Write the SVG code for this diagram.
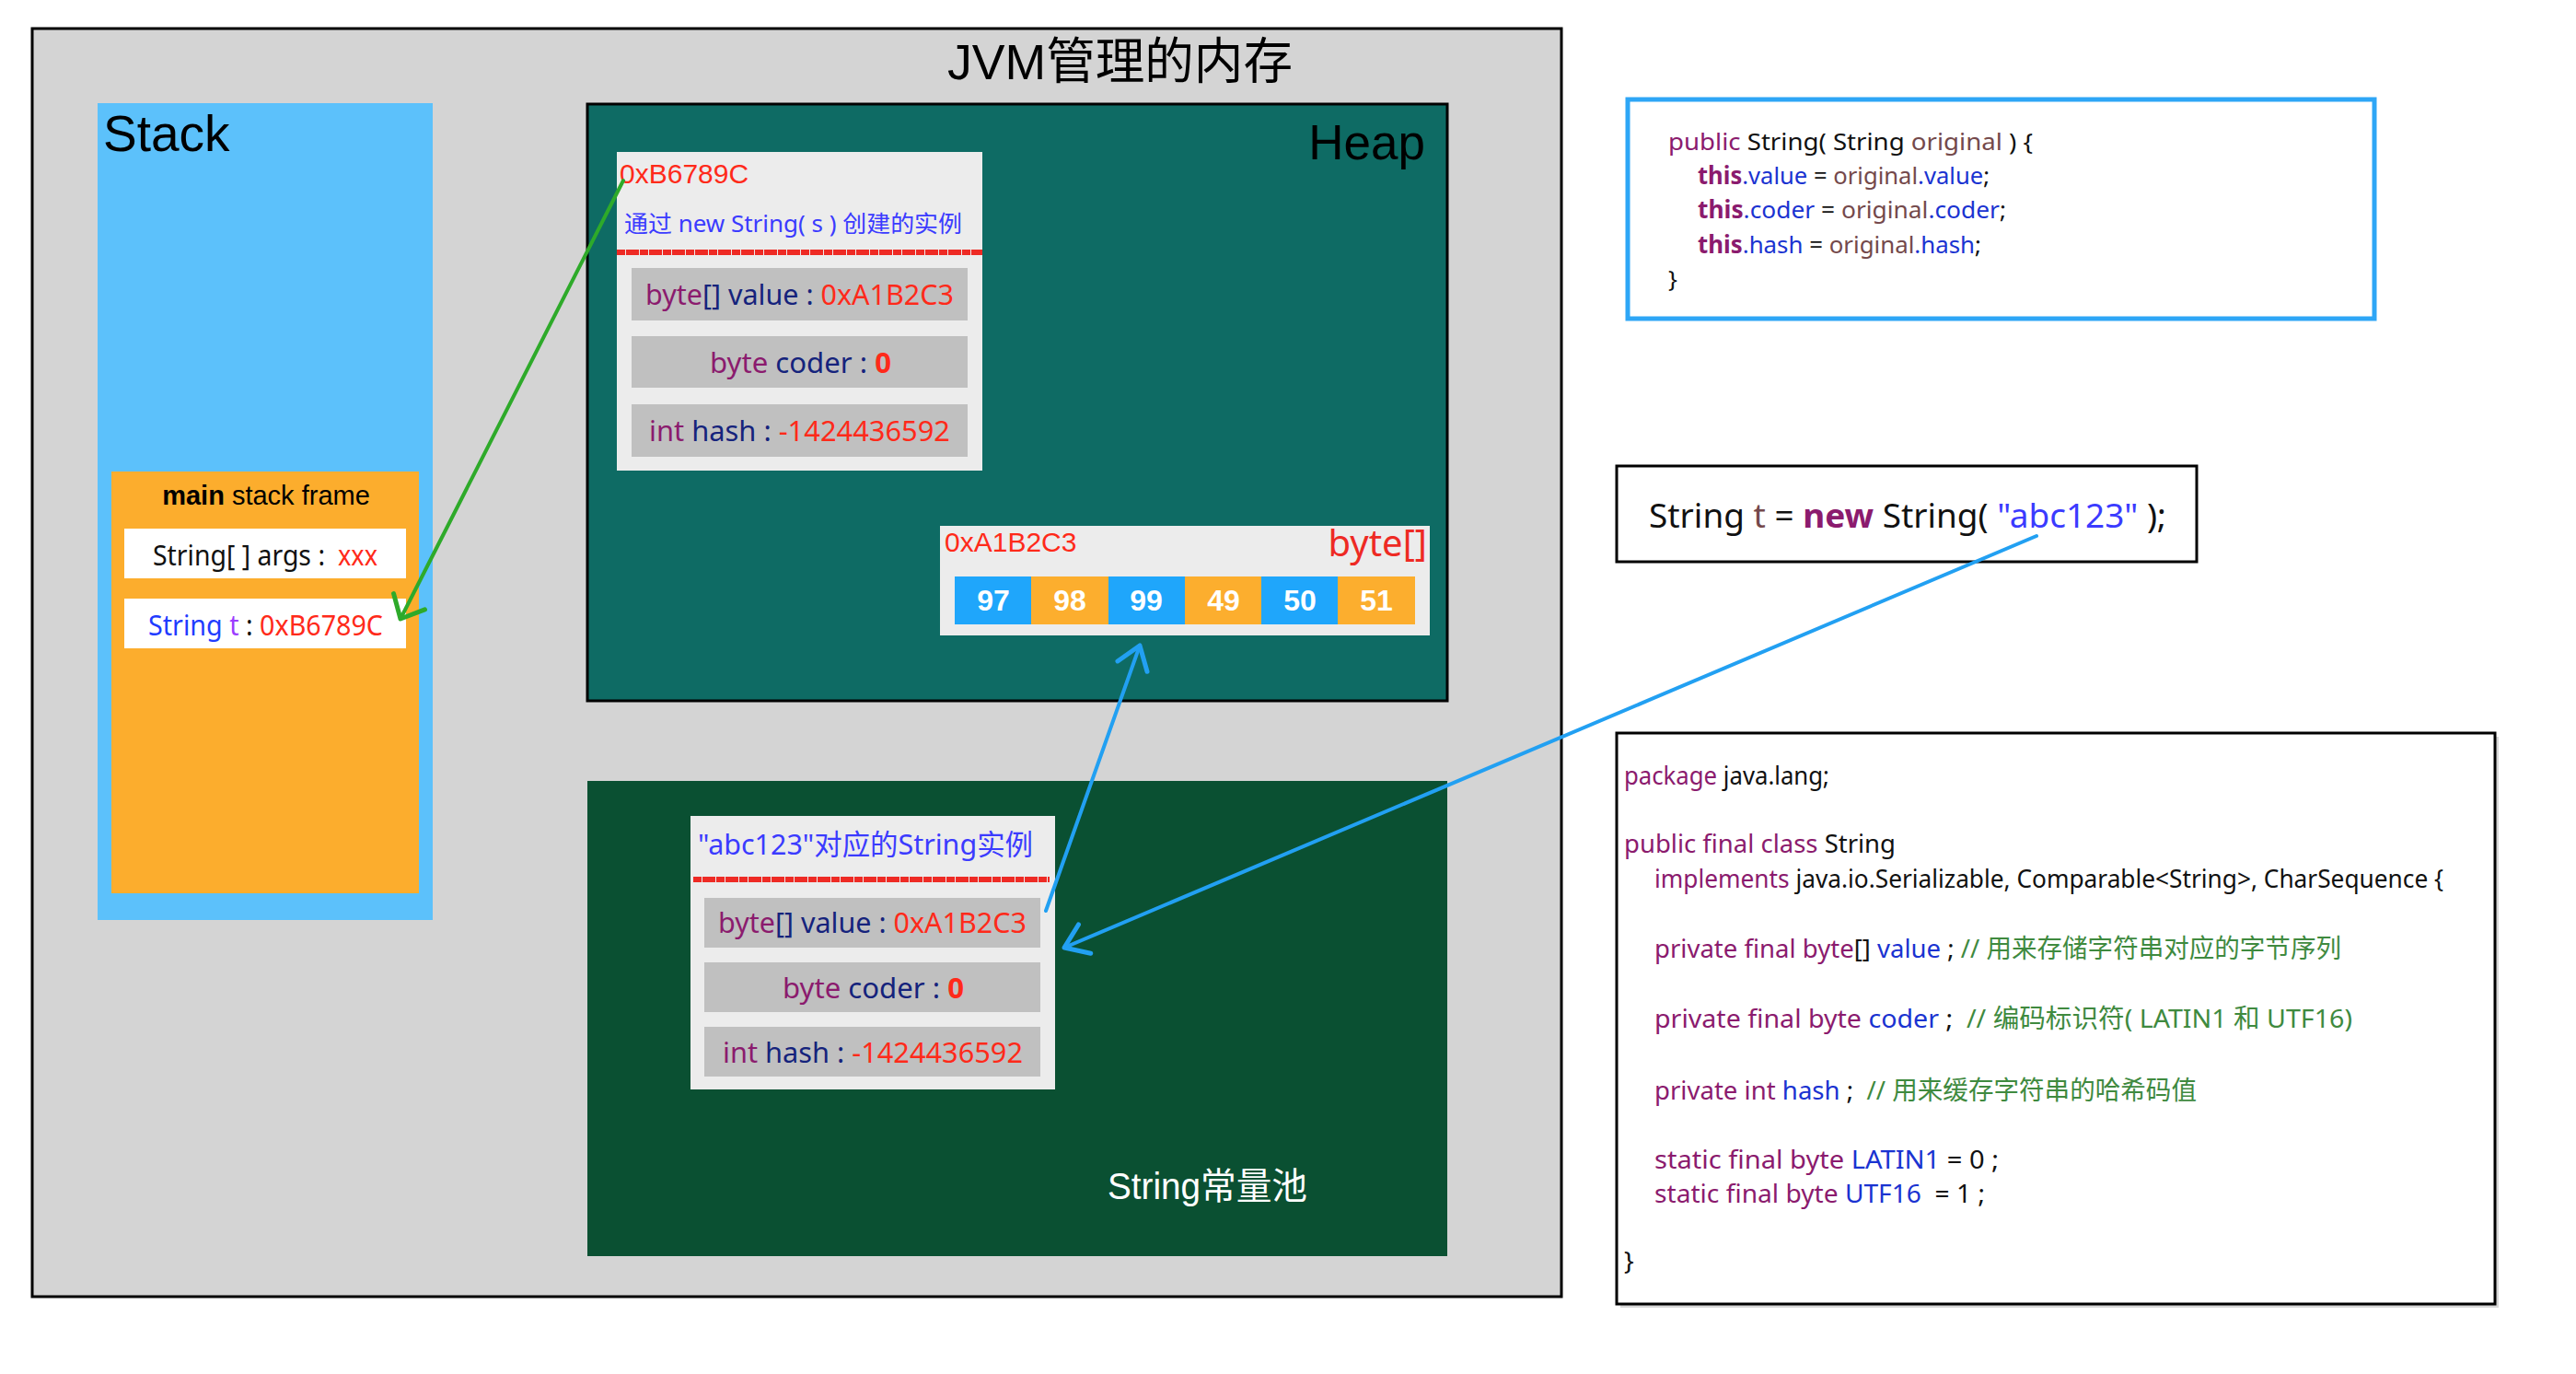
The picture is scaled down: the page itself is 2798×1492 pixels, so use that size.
<svg xmlns="http://www.w3.org/2000/svg" width="2798" height="1492" viewBox="0 0 2798 1492">
<style>
.sans{font-family:"Liberation Sans","Noto Sans CJK SC",Arial,sans-serif}
.code{font-family:"Noto Sans","Noto Sans CJK SC",sans-serif;white-space:pre}
.kw{fill:#8b1b6e}
.nv{fill:#15237c}
.rd{fill:#ff2a1a}
.bl{fill:#1a33d1}
.gr{fill:#3f8a3f}
.bk{fill:#111111}
.br{fill:#74494b}
.row{fill:#c0c0c0}
.inst{fill:#ececec}
.num{font-family:"Liberation Sans",Arial,sans-serif;font-weight:bold;font-size:32px;fill:#ffffff;text-anchor:middle}
.redline{stroke:#ee2a24;stroke-width:6;stroke-dasharray:9 1 14 1;fill:none}
.conn{fill:none;stroke-width:4;stroke-linecap:round;stroke-linejoin:round}
</style>
<defs>
<marker id="headG" markerUnits="userSpaceOnUse" markerWidth="60" markerHeight="60" refX="0" refY="0" viewBox="-30 -30 60 60" orient="auto" overflow="visible">
<path d="M -21 -19 L 0 0 L -21 19" fill="none" stroke="#2eaa2a" stroke-width="5" stroke-linecap="round" stroke-linejoin="round"/>
</marker>
<marker id="headB" markerUnits="userSpaceOnUse" markerWidth="60" markerHeight="60" refX="0" refY="0" viewBox="-30 -30 60 60" orient="auto" overflow="visible">
<path d="M -24 -17 L 0 0 L -24 17" fill="none" stroke="#22a0f2" stroke-width="5" stroke-linecap="round" stroke-linejoin="round"/>
</marker>
</defs>
<rect x="0" y="0" width="2798" height="1492" fill="#ffffff"/>

<g id="jvm">
<rect x="35" y="31" width="1661" height="1377" fill="#d4d4d4" stroke="#000" stroke-width="3"/>
<text class="sans" x="1029" y="86" font-size="54" textLength="375" lengthAdjust="spacingAndGlyphs" fill="#000">JVM管理的内存</text>
</g>

<g id="stack">
<rect x="106" y="112" width="364" height="887" fill="#5cc1fb"/>
<text class="sans" x="112" y="164" font-size="55" fill="#000">Stack</text>
</g>

<g id="main-frame">
<rect x="121" y="512" width="334" height="458" fill="#fcad2d"/>
<text class="sans" x="289" y="548" font-size="29" text-anchor="middle" fill="#000"><tspan font-weight="bold">main</tspan> stack frame</text>
<rect x="135" y="574" width="306" height="54" fill="#ffffff"/>
<text class="code bk" x="166" y="614" font-size="30" textLength="187" lengthAdjust="spacingAndGlyphs">String[ ] args :</text>
<text class="code rd" x="367" y="614" font-size="30" textLength="43" lengthAdjust="spacingAndGlyphs">xxx</text>
<rect x="135" y="650" width="306" height="54" fill="#ffffff"/>
<text class="code" x="161" y="690" font-size="30" textLength="255" lengthAdjust="spacingAndGlyphs"><tspan fill="#1f3cff">String</tspan><tspan fill="#9b3cff"> t</tspan><tspan class="bk"> : </tspan><tspan class="rd">0xB6789C</tspan></text>
</g>

<g id="heap">
<rect x="638" y="113" width="934" height="648" fill="#0e6b64" stroke="#000" stroke-width="3"/>
<text class="sans" x="1548" y="173" font-size="53" text-anchor="end" fill="#000">Heap</text>
</g>

<g id="heap-string">
<rect class="inst" x="670" y="165" width="397" height="346"/>
<text class="sans" x="673" y="199" font-size="30" fill="#ff2a1a">0xB6789C</text>
<text class="code" x="678" y="252" font-size="25" fill="#3b3bff" textLength="367" lengthAdjust="spacingAndGlyphs">通过 new String( s ) 创建的实例</text>
<path class="redline" d="M 670 274 L 1067 274"/>
<rect class="row" x="686" y="291" width="365" height="57"/>
<text class="code" x="701" y="331" font-size="30" textLength="335" lengthAdjust="spacingAndGlyphs"><tspan class="kw">byte</tspan><tspan class="nv">[] value : </tspan><tspan class="rd">0xA1B2C3</tspan></text>
<rect class="row" x="686" y="365" width="365" height="56"/>
<text class="code" x="771" y="405" font-size="30" textLength="197" lengthAdjust="spacingAndGlyphs"><tspan class="kw">byte</tspan><tspan class="nv"> coder : </tspan><tspan class="rd" font-weight="bold">0</tspan></text>
<rect class="row" x="686" y="439" width="365" height="57"/>
<text class="code" x="705" y="479" font-size="30" textLength="327" lengthAdjust="spacingAndGlyphs"><tspan class="kw">int</tspan><tspan class="nv"> hash : </tspan><tspan class="rd">-1424436592</tspan></text>
</g>

<g id="byte-array">
<rect class="inst" x="1021" y="571" width="532" height="119"/>
<text class="sans" x="1026" y="599" font-size="30" fill="#ff2a1a">0xA1B2C3</text>
<text class="code" x="1550" y="604" font-size="40" text-anchor="end" fill="#ee2a24">byte[]</text>
<rect x="1037" y="626" width="84" height="52" fill="#1fa6fb"/>
<rect x="1120" y="626" width="84" height="52" fill="#fcae2e"/>
<rect x="1204" y="626" width="84" height="52" fill="#1fa6fb"/>
<rect x="1287" y="626" width="84" height="52" fill="#fcae2e"/>
<rect x="1370" y="626" width="84" height="52" fill="#1fa6fb"/>
<rect x="1453" y="626" width="84" height="52" fill="#fcae2e"/>
<text class="num" x="1079" y="663">97</text>
<text class="num" x="1162" y="663">98</text>
<text class="num" x="1245" y="663">99</text>
<text class="num" x="1329" y="663">49</text>
<text class="num" x="1412" y="663">50</text>
<text class="num" x="1495" y="663">51</text>
</g>

<g id="string-pool">
<rect x="638" y="848" width="934" height="516" fill="#0a5032"/>
<text class="sans" x="1203" y="1302" font-size="40" fill="#ffffff" textLength="217" lengthAdjust="spacingAndGlyphs">String常量池</text>
</g>

<g id="pool-string">
<rect class="inst" x="750" y="886" width="396" height="297"/>
<text class="code" x="758" y="928" font-size="31" fill="#3b3bff" textLength="364" lengthAdjust="spacingAndGlyphs">"abc123"对应的String实例</text>
<path class="redline" d="M 753 955 L 1140 955"/>
<rect class="row" x="765" y="975" width="365" height="54"/>
<text class="code" x="780" y="1013" font-size="30" textLength="335" lengthAdjust="spacingAndGlyphs"><tspan class="kw">byte</tspan><tspan class="nv">[] value : </tspan><tspan class="rd">0xA1B2C3</tspan></text>
<rect class="row" x="765" y="1045" width="365" height="54"/>
<text class="code" x="850" y="1084" font-size="30" textLength="197" lengthAdjust="spacingAndGlyphs"><tspan class="kw">byte</tspan><tspan class="nv"> coder : </tspan><tspan class="rd" font-weight="bold">0</tspan></text>
<rect class="row" x="765" y="1115" width="365" height="54"/>
<text class="code" x="785" y="1154" font-size="30" textLength="326" lengthAdjust="spacingAndGlyphs"><tspan class="kw">int</tspan><tspan class="nv"> hash : </tspan><tspan class="rd">-1424436592</tspan></text>
</g>

<g id="constructor-code">
<rect x="1768" y="108" width="811" height="238" fill="#ffffff" stroke="#2ea6f6" stroke-width="5"/>
<text class="code" x="1812" y="163" font-size="26" textLength="396" lengthAdjust="spacingAndGlyphs"><tspan class="kw">public</tspan><tspan class="bk"> String( String </tspan><tspan class="br">original</tspan><tspan class="bk"> ) {</tspan></text>
<text class="code" x="1844" y="200" font-size="26" textLength="317" lengthAdjust="spacingAndGlyphs"><tspan class="kw" font-weight="bold">this</tspan><tspan class="bl">.value</tspan><tspan class="bk"> = </tspan><tspan class="br">original</tspan><tspan class="bl">.value</tspan><tspan class="bk">;</tspan></text>
<text class="code" x="1844" y="237" font-size="26" textLength="335" lengthAdjust="spacingAndGlyphs"><tspan class="kw" font-weight="bold">this</tspan><tspan class="bl">.coder</tspan><tspan class="bk"> = </tspan><tspan class="br">original</tspan><tspan class="bl">.coder</tspan><tspan class="bk">;</tspan></text>
<text class="code" x="1844" y="275" font-size="26" textLength="308" lengthAdjust="spacingAndGlyphs"><tspan class="kw" font-weight="bold">this</tspan><tspan class="bl">.hash</tspan><tspan class="bk"> = </tspan><tspan class="br">original</tspan><tspan class="bl">.hash</tspan><tspan class="bk">;</tspan></text>
<text class="code bk" x="1812" y="312" font-size="26">}</text>
</g>

<g id="statement">
<rect x="1756" y="506" width="630" height="104" fill="#ffffff" stroke="#000" stroke-width="3"/>
<text class="code" x="1791" y="573" font-size="36" textLength="562" lengthAdjust="spacingAndGlyphs"><tspan class="bk">String </tspan><tspan class="br">t</tspan><tspan class="bk"> = </tspan><tspan class="kw" font-weight="bold">new</tspan><tspan class="bk"> String( </tspan><tspan fill="#3b3bff">"abc123"</tspan><tspan class="bk"> );</tspan></text>
</g>

<g id="string-class-code">
<rect x="1760" y="800" width="954" height="620" fill="#bdbdbd" opacity="0.6"/>
<rect x="1756" y="796" width="954" height="620" fill="#ffffff" stroke="#000" stroke-width="3"/>
<text class="code" x="1764" y="852" font-size="28" textLength="223" lengthAdjust="spacingAndGlyphs"><tspan class="kw">package</tspan><tspan class="bk"> java.lang;</tspan></text>
<text class="code" x="1764" y="926" font-size="28" textLength="295" lengthAdjust="spacingAndGlyphs"><tspan class="kw">public final class</tspan><tspan class="bk"> String</tspan></text>
<text class="code" x="1797" y="964" font-size="28" textLength="857" lengthAdjust="spacingAndGlyphs"><tspan class="kw">implements</tspan><tspan class="bk"> java.io.Serializable, Comparable&lt;String&gt;, CharSequence {</tspan></text>
<text class="code" x="1797" y="1040" font-size="28" textLength="746" lengthAdjust="spacingAndGlyphs"><tspan class="kw">private final byte</tspan><tspan class="bk">[]</tspan><tspan class="bl"> value</tspan><tspan class="bk"> ; </tspan><tspan class="gr">// 用来存储字符串对应的字节序列</tspan></text>
<text class="code" x="1797" y="1116" font-size="28" textLength="758" lengthAdjust="spacingAndGlyphs"><tspan class="kw">private final byte</tspan><tspan class="bl"> coder</tspan><tspan class="bk"> ;  </tspan><tspan class="gr">// 编码标识符( LATIN1 和 UTF16)</tspan></text>
<text class="code" x="1797" y="1194" font-size="28" textLength="589" lengthAdjust="spacingAndGlyphs"><tspan class="kw">private int</tspan><tspan class="bl"> hash</tspan><tspan class="bk"> ;  </tspan><tspan class="gr">// 用来缓存字符串的哈希码值</tspan></text>
<text class="code" x="1797" y="1269" font-size="28" textLength="374" lengthAdjust="spacingAndGlyphs"><tspan class="kw">static final byte</tspan><tspan class="bl"> LATIN1</tspan><tspan class="bk"> = 0 ;</tspan></text>
<text class="code" x="1797" y="1306" font-size="28" textLength="359" lengthAdjust="spacingAndGlyphs"><tspan class="kw">static final byte</tspan><tspan class="bl"> UTF16</tspan><tspan class="bk">  = 1 ;</tspan></text>
<text class="code bk" x="1764" y="1379" font-size="28">}</text>
</g>

<g id="connectors">
<path class="conn" d="M 677 196 L 435 672" stroke="#2eaa2a" marker-end="url(#headG)"/>
<path class="conn" d="M 1136 989 L 1238 701" stroke="#22a0f2" marker-end="url(#headB)"/>
<path class="conn" d="M 2212 582 L 1156 1029" stroke="#22a0f2" marker-end="url(#headB)"/>
</g>
</svg>
